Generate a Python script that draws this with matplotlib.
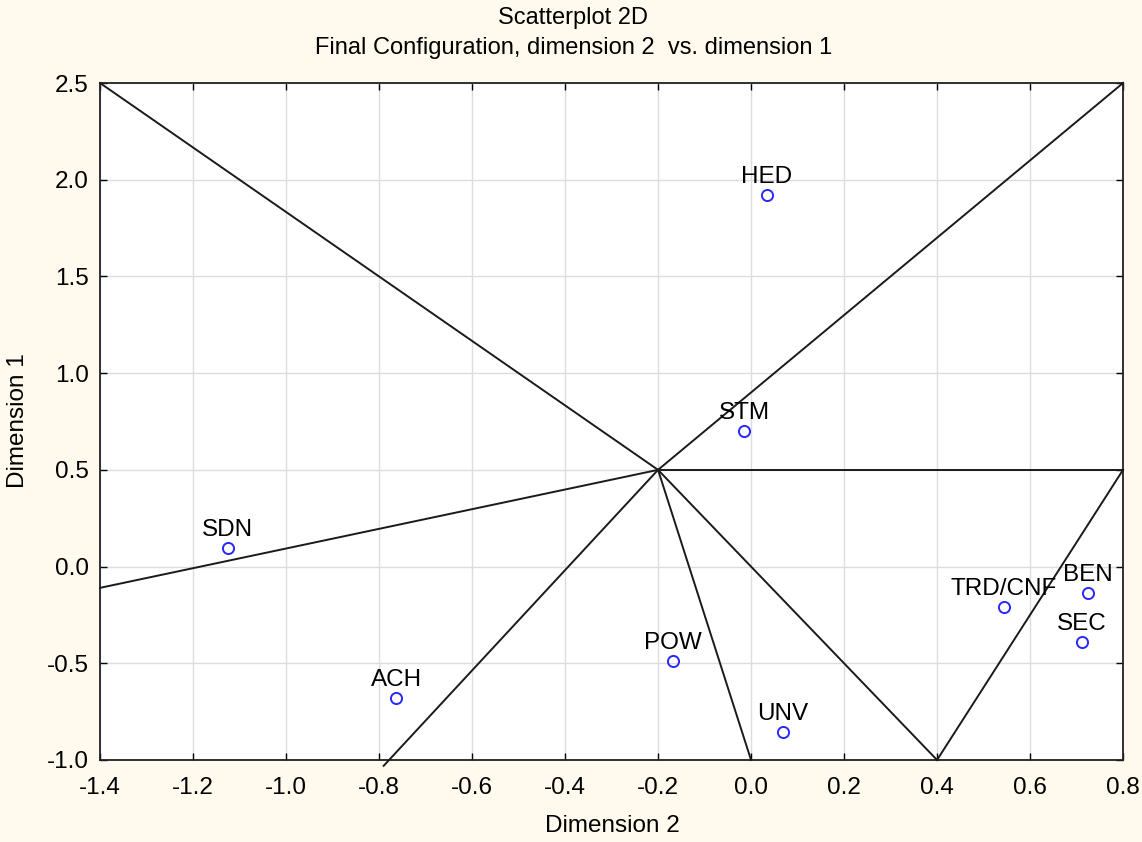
import matplotlib.pyplot as plt

plt.rcParams['font.family'] = ['Liberation Sans', 'DejaVu Sans']

# points: dimension 2 (x) vs dimension 1 (y)
names = ['HED', 'STM', 'SDN', 'ACH', 'POW', 'UNV', 'TRD/CNF', 'BEN', 'SEC']
dim2 = [0.034, -0.015, -1.125, -0.763, -0.168, 0.069, 0.544, 0.725, 0.712]
dim1 = [1.92, 0.70, 0.094, -0.68, -0.49, -0.854, -0.21, -0.135, -0.39]

# partition lines drawn on the plot (x0, y0, x1, y1)
seg_x0 = [-0.2, -0.2, -0.2, -0.2, -0.2, -0.2, -0.2, 0.4]
seg_y0 = [0.5, 0.5, 0.5, 0.5, 0.5, 0.5, 0.5, -1.0]
seg_x1 = [-1.4, 0.8, 0.8, -1.4, -0.79, 0.0, 0.4, 0.8]
seg_y1 = [2.5, 2.5, 0.5, -0.11, -1.03, -1.0, -1.0, 0.5]

xticks = [-1.4, -1.2, -1.0, -0.8, -0.6, -0.4, -0.2, 0.0, 0.2, 0.4, 0.6, 0.8]
yticks = [-1.0, -0.5, 0.0, 0.5, 1.0, 1.5, 2.0, 2.5]

fig = plt.figure(figsize=(11.42, 8.42), dpi=100, facecolor='#fff9ee')
ax = fig.add_axes([0.0876, 0.0974, 0.8958, 0.804])
ax.set_facecolor('white')

for x0, y0, x1, y1 in zip(seg_x0, seg_y0, seg_x1, seg_y1):
    ax.plot([x0, x1], [y0, y1], color='#1a1a1a', lw=1.4, clip_on=False, zorder=3)

ax.plot(dim2, dim1, 'o', ms=8, mfc='none', mec='#2828ff', mew=1.4, zorder=4)
for n, x, y in zip(names, dim2, dim1):
    ax.annotate(n, (x, y), xytext=(0, 5), textcoords='offset points',
                ha='center', va='bottom', fontsize=17.5, zorder=5)

ax.set_xlim(-1.4, 0.8)
ax.set_ylim(-1.0, 2.5)
ax.set_xticks(xticks)
ax.set_yticks(yticks)
ax.set_xticklabels([f'{t:.1f}' for t in xticks])
ax.set_yticklabels([f'{t:.1f}' for t in yticks])
ax.grid(True, color='#dcdcdc', lw=1)
ax.set_axisbelow(True)
ax.tick_params(direction='in', length=5, width=1, top=True, right=True,
               labelsize=17.5)
ax.tick_params(axis='x', pad=12)
ax.tick_params(axis='y', pad=8)
for s in ax.spines.values():
    s.set_linewidth(1.3)
    s.set_color('#222222')

fig.text(0.536, 0.019, 'Dimension 2', ha='center', va='center', fontsize=17.5)
fig.text(0.016, 0.5, 'Dimension 1', ha='center', va='center', rotation=90,
         fontsize=17.5)

fig.text(0.502, 0.979, 'Scatterplot 2D', ha='center', va='center', fontsize=17)
fig.text(0.502, 0.943, 'Final Configuration, dimension 2  vs. dimension 1',
         ha='center', va='center', fontsize=17)

fig.savefig('out.png', dpi=100, facecolor=fig.get_facecolor())
